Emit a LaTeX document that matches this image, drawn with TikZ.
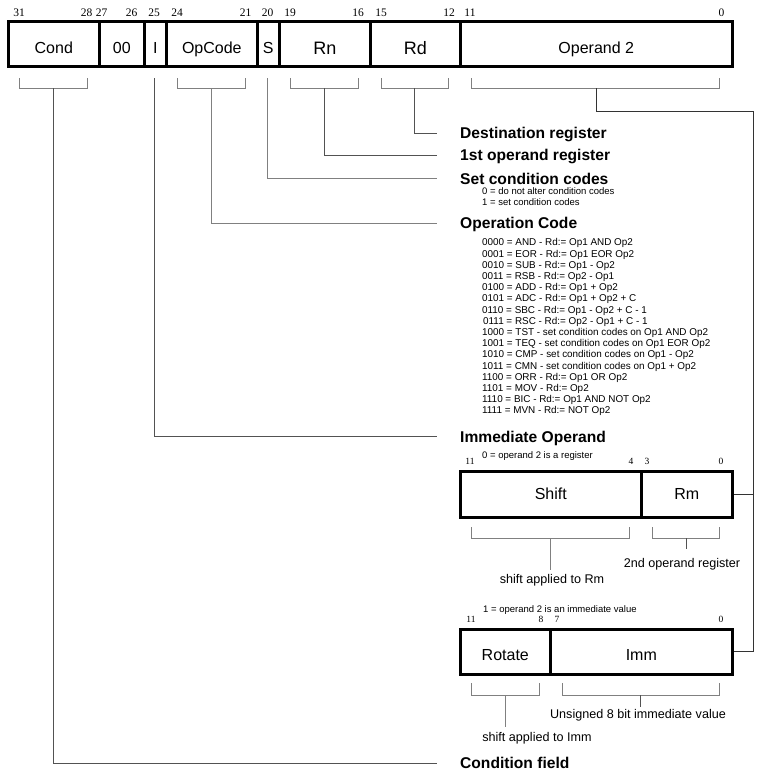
\documentclass[tikz,border=0pt]{standalone}
\usepackage{fontspec}
\setmainfont{Liberation Sans}
\newfontfamily\bitfont{Liberation Serif}
\begin{document}
\begin{tikzpicture}[x=1pt,y=-1pt,
  field/.style={draw=black,line width=2.6pt,inner sep=0pt,anchor=north west,font=\fontsize{16}{16}\selectfont},
  topfield/.style={field,minimum height=45pt,text height=19pt,text depth=0pt},
  bigfield/.style={topfield,font=\fontsize{18}{18}\selectfont,text height=21pt},
  shiftfield/.style={field,minimum height=46pt,text height=10pt,text depth=0pt},
  rotfield/.style={field,minimum height=45pt,text height=17pt,text depth=0pt},
  bitnum/.style={inner sep=0pt,anchor=base,font=\bitfont\fontsize{11.5}{11.5}\selectfont},
  smallbit/.style={inner sep=0pt,anchor=base,font=\bitfont\fontsize{9.5}{9.5}\selectfont},
  title/.style={inner sep=0pt,anchor=base west,font=\bfseries\fontsize{15.6}{15.6}\selectfont},
  note/.style={inner sep=0pt,anchor=base west,font=\fontsize{9.5}{9.5}\selectfont},
  caption/.style={inner sep=0pt,anchor=base,font=\fontsize{12.6}{12.6}\selectfont},
  bracket/.style={draw=black!50,line width=1pt},
  conn/.style={draw=black!68,line width=1pt},
  opline/.style={draw=black!80,line width=1pt}]
\useasboundingbox (0,0) rectangle (764,772);

% ---- top instruction word ----
\node[topfield,minimum width=91pt] (cond) at (7,20) {Cond};
\node[topfield,minimum width=45pt] (zz) at (98,20) {00};
\node[topfield,minimum width=22pt] (ibit) at (143,20) {I};
\node[topfield,minimum width=91pt] (opc) at (165,20) {OpCode};
\node[topfield,minimum width=22pt] (sbit) at (256,20) {S};
\node[bigfield,minimum width=91pt] (rn) at (278,20) {Rn};
\node[bigfield,minimum width=90pt] (rd) at (369,20) {Rd};
\node[topfield,minimum width=272pt] (op2) at (459,20) {Operand 2};

% bit numbers
\node[bitnum] (b31) at (19,16) {31};
\node[bitnum] (b28) at (86.5,16) {28};
\node[bitnum] (b27) at (101.5,16) {27};
\node[bitnum] (b26) at (131.5,16) {26};
\node[bitnum] (b25) at (154,16) {25};
\node[bitnum] (b24) at (177,16) {24};
\node[bitnum] (b21) at (245.5,16) {21};
\node[bitnum] (b20) at (267.5,16) {20};
\node[bitnum] (b19) at (290,16) {19};
\node[bitnum] (b16) at (358,16) {16};
\node[bitnum] (b15) at (381,16) {15};
\node[bitnum] (b12) at (449,16) {12};
\node[bitnum] (b11) at (470,16) {11};
\node[bitnum] (b0) at (721.5,16) {0};

% brackets under fields
\draw[bracket] (19,78) -- (19,88) -- (87,88) -- (87,78);
\draw[bracket] (177,78) -- (177,88) -- (245,88) -- (245,78);
\draw[bracket] (290,78) -- (290,88) -- (358,88) -- (358,78);
\draw[bracket] (381,78) -- (381,88) -- (448,88) -- (448,78);
\draw[bracket] (471,78) -- (471,88) -- (719,88) -- (719,78);
\coordinate (condb) at (53,88);
\coordinate (ib) at (154,78);
\coordinate (opcb) at (211,88);
\coordinate (sb) at (267,78);
\coordinate (rnb) at (324,88);
\coordinate (rdb) at (414,88);
\coordinate (op2b) at (596,88);

% ---- labels ----
\node[title] (dest) at (460,138) {Destination register};
\node[title] (first) at (460,160) {1st operand register};
\node[title] (setc) at (460,184) {Set condition codes};
\node[note] (set0) at (482,194) {0 = do not alter condition codes};
\node[note] (set1) at (482,205) {1 = set condition codes};
\node[title] (opcode) at (460,228) {Operation Code};
\node[inner sep=0pt,anchor=north west,align=left,font=\fontsize{9.9}{11.2}\selectfont] (oplist) at (482,238.6) {%
0000 = AND - Rd:= Op1 AND Op2\\
0001 = EOR - Rd:= Op1 EOR Op2\\
0010 = SUB - Rd:= Op1 - Op2\\
0011 = RSB - Rd:= Op2 - Op1\\
0100 = ADD - Rd:= Op1 + Op2\\
0101 = ADC - Rd:= Op1 + Op2 + C\\
0110 = SBC - Rd:= Op1 - Op2 + C - 1\\
\hspace*{1pt}0111 = RSC - Rd:= Op2 - Op1 + C - 1\\
1000 = TST - set condition codes on Op1 AND Op2\\
1001 = TEQ - set condition codes on Op1 EOR Op2\\
1010 = CMP - set condition codes on Op1 - Op2\\
1011 = CMN - set condition codes on Op1 + Op2\\
1100 = ORR - Rd:= Op1 OR Op2\\
1101 = MOV - Rd:= Op2\\
1110 = BIC - Rd:= Op1 AND NOT Op2\\
1111 = MVN - Rd:= NOT Op2};
\node[title] (immop) at (460,442) {Immediate Operand};
\node[title] (condf) at (460,768) {Condition field};

\coordinate (destc) at (437,133);
\coordinate (firstc) at (437,155);
\coordinate (setcc) at (437,178);
\coordinate (opcodec) at (437,223);
\coordinate (immopc) at (437,436);
\coordinate (condfc) at (437,763);

\draw[conn] (rdb) |- (destc);
\draw[conn] (rnb) |- (firstc);
\draw[bracket] (sb) |- (setcc);
\draw[bracket] (opcb) |- (opcodec);
\draw[conn] (ib) |- (immopc);
\draw[conn] (condb) |- (condfc);

% ---- register operand ----
\node[note] (reg0) at (482,458) {0 = operand 2 is a register};
\node[smallbit] (s11) at (470,464) {11};
\node[smallbit] (s4) at (631,464) {4};
\node[smallbit] (s3) at (647,464) {3};
\node[smallbit] (s0) at (721,464) {0};
\node[shiftfield,minimum width=181pt] (shift) at (459,470) {Shift};
\node[shiftfield,minimum width=91pt] (rm) at (640,470) {Rm};
\draw[bracket] (471,527) -- (471,538) -- (629,538) -- (629,527);
\draw[bracket] (652,527) -- (652,538) -- (719,538) -- (719,527);
\coordinate (shiftb) at (550,538);
\coordinate (rmb) at (686,538);
\node[caption] (shiftcap) at (552,583) {shift applied to Rm};
\node[caption] (rmcap) at (682,567) {2nd operand register};
\draw[bracket] (shiftb) -- (shiftb |- 0,570);
\draw[conn] (rmb) -- (rmb |- 0,549);

% ---- immediate operand ----
\node[note] (imm1) at (483,612) {1 = operand 2 is an immediate value};
\node[smallbit] (r11) at (471,622) {11};
\node[smallbit] (r8) at (541,622) {8};
\node[smallbit] (r7) at (557,622) {7};
\node[smallbit] (r0) at (721,622) {0};
\node[rotfield,minimum width=90pt] (rot) at (459,628) {Rotate};
\node[rotfield,minimum width=182pt] (imm) at (549,628) {Imm};
\draw[bracket] (471,683) -- (471,695) -- (539,695) -- (539,683);
\draw[bracket] (562,683) -- (562,695) -- (719,695) -- (719,683);
\coordinate (rotb) at (505,695);
\coordinate (immb) at (640,695);
\node[caption] (rotcap) at (537,741) {shift applied to Imm};
\node[caption] (immcap) at (638,718) {Unsigned 8 bit immediate value};
\draw[bracket] (rotb) -- (rotb |- 0,727);
\draw[conn] (immb) -- (immb |- 0,707);

% ---- operand 2 connector ----
\coordinate (rail) at (753,111);
\draw[opline] (op2b) |- (rail) -- (rail |- imm.east) -- (imm.east);
\draw[opline] (rail |- rm.east) -- (rm.east);
\end{tikzpicture}
\end{document}
